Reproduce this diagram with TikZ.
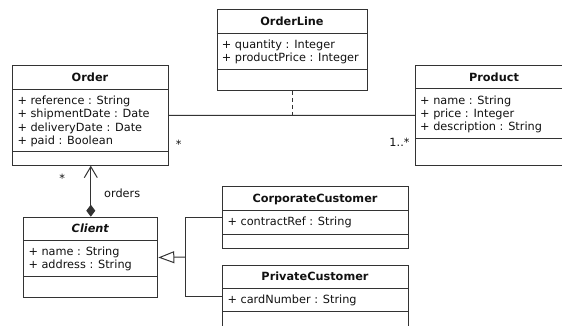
\documentclass[tikz,border=0pt]{standalone}
\usepackage{fontspec}
\setmainfont{DejaVu Sans}
\usepackage{tikz}
\usetikzlibrary{arrows.meta}
\definecolor{umlline}{HTML}{333333}
\definecolor{umltext}{HTML}{111111}

\tikzset{
  classbox/.style={draw=umlline, line width=1pt, inner sep=0pt, anchor=north west},
  classtitle/.style={font=\fontsize{11.3}{13.2}\selectfont\bfseries, text=umltext, inner sep=0pt, text height=8.2pt, text depth=0pt},
  classattr/.style={font=\fontsize{11.3}{13.2}\selectfont, text=umltext, anchor=base west, inner sep=0pt},
  multlabel/.style={font=\fontsize{11.3}{13.2}\selectfont, text=umltext, inner sep=0pt},
  assoc/.style={draw=umlline, line width=1pt},
  comp/.style={draw=umlline, line width=1pt, {Diamond[length=12pt,width=9pt]}-{Straight Barb[length=11pt,width=13pt]}},
  gen/.style={draw=umlline, line width=1pt, -{Triangle[open,length=16pt,width=12pt]}},
}

% class box: name, left, top, right, title line, separator, bottom, title, attributes
\newcommand{\umlclass}[9]{%
  \node[classbox, minimum width={#4-#2}, minimum height={#7-#3}] (#1) at (#2,#3) {};
  \draw[umlline, line width=1pt] (#2,#5) -- (#4,#5) (#2,#6) -- (#4,#6);
  \node[classtitle] at ({(#2+#4)/2},{(#3+#5)/2}) {#8};
  \foreach \attr [count=\i] in {#9}
    \node[classattr] at ({#2+5},{#5+15.5+(\i-1)*13.2}) {\attr};
}

\begin{document}
\begin{tikzpicture}[x=1pt, y=-1pt]
  \useasboundingbox (0,0) rectangle (562,326);
  \clip (0,0) rectangle (562,326);

  % Classes
  \umlclass{OrderLine}{216.7}{9.3}{367.3}{33.3}{69.3}{90}{OrderLine}{+ quantity : Integer, + productPrice : Integer}
  \umlclass{Order}{12.3}{64.7}{167.7}{89.3}{151}{164.7}{Order}{+ reference : String, + shipmentDate : Date, + deliveryDate : Date, + paid : Boolean}
  \umlclass{Product}{415}{65}{573}{89}{139}{165}{Product}{+ name : String, + price : Integer, + description : String}
  \umlclass{Client}{23.3}{216.7}{157.3}{240}{276.7}{297.3}{\itshape Client}{+ name : String, + address : String}
  \umlclass{Corporate}{222.3}{186}{407.7}{210}{234}{248.3}{CorporateCustomer}{+ contractRef : String}
  \umlclass{Private}{222.3}{265}{407.7}{288.3}{311.7}{327}{PrivateCustomer}{+ cardNumber : String}

  % Association with class OrderLine
  \draw[assoc] (Order) -- (Product);
  \draw[assoc, dash pattern=on 4pt off 3pt] (OrderLine.south) -- (OrderLine.south |- Order.east);
  \node[multlabel] (multOrder) at ([xshift=10pt,yshift=-28.7pt]Order.east) {*};
  \node[multlabel] (multProduct) at ([xshift=-15.5pt,yshift=-26.7pt]Product.west) {1..*};

  % Composition Client -> Order
  \draw[comp] (Client.north) -- (Client.north |- Order.south);
  \node[multlabel] (multClient) at ([xshift=-28.3pt,yshift=-13pt]Order.south) {*};
  \node[multlabel] (roleOrders) at ([xshift=31.7pt,yshift=-27.3pt]Order.south) {orders};

  % Generalisation
  \coordinate (genbus) at (185.5,257);
  \draw[gen] (genbus) -- (Client.east);
  \draw[assoc] (Corporate.west) -| (genbus);
  \draw[assoc] (Private.west) -| (genbus);
\end{tikzpicture}
\end{document}
